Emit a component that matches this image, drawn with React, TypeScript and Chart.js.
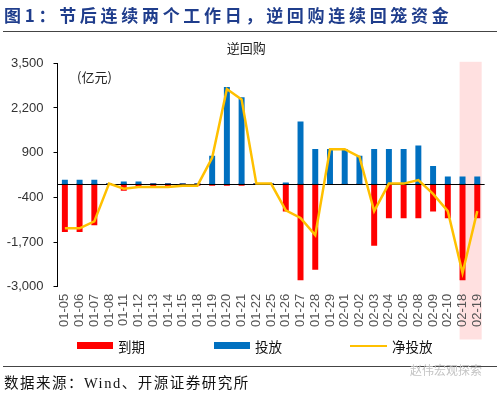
import React, { useEffect, useRef } from "react";
import { Chart, registerables } from "chart.js";

Chart.register(...registerables);

const categories = ["01-05","01-06","01-07","01-08","01-11","01-12","01-13","01-14","01-15","01-18","01-19","01-20","01-21","01-22","01-25","01-26","01-27","01-28","01-29","02-01","02-02","02-03","02-04","02-05","02-08","02-09","02-10","02-18","02-19"];
const maturity = [-1400,-1400,-1200,0,-200,-100,-100,-100,-50,-50,-50,-50,-50,0,0,-800,-2800,-2500,0,0,-20,-1800,-1000,-1000,-1000,-800,-1000,-2800,-1000];
const injection = [100,100,100,0,50,50,0,0,0,0,800,2800,2500,0,0,20,1800,1000,1000,1000,800,1000,1000,1000,1100,500,200,200,200];
const netInjection = [-1300,-1300,-1100,0,-150,-100,-100,-100,-60,-60,750,2750,2450,0,0,-780,-1000,-1500,1000,1000,780,-800,0,0,100,-300,-800,-2600,-800];
const yTicks = [-3000,-1700,-400,900,2200,3500];
const highlightCats = ["02-18","02-19"];

const seriesNames = { maturity: "到期", injection: "投放", net: "净投放" };
const colors = { red: "#FF0000", blue: "#0070C0", yellow: "#FFC000" };

const cjk = '"Noto Sans CJK SC", "Noto Sans", sans-serif';
const latin = '"Liberation Sans", Arial, sans-serif';

const extrasPlugin = {
  id: "extras",
  beforeDraw(chart: any) {
    const { ctx, scales, chartArea } = chart;
    const xs = scales.x;
    const i1 = categories.indexOf(highlightCats[0]);
    const i2 = categories.indexOf(highlightCats[highlightCats.length - 1]);
    const w = xs.getPixelForValue(1) - xs.getPixelForValue(0);
    const left = xs.getPixelForValue(i1) - 0.2 * w;
    const right = xs.getPixelForValue(i2) + 0.3 * w;
    ctx.save();
    ctx.fillStyle = "rgba(255,0,0,0.12)";
    ctx.fillRect(left, chartArea.top - 1.5, right - left, 341 - chartArea.top);
    ctx.restore();
  },
  beforeDatasetDraw(chart: any, args: any) {
    if (args.index !== 2) return;
    const { ctx, scales, chartArea } = chart;
    const y0 = Math.round(scales.y.getPixelForValue(0)) + 0.5;
    ctx.save();
    ctx.strokeStyle = "#000";
    ctx.lineWidth = 1.2;
    ctx.beginPath();
    ctx.moveTo(chartArea.left, y0);
    ctx.lineTo(chartArea.right, y0);
    ctx.stroke();
    ctx.restore();
  },
};

function ChartCanvas() {
  const ref = useRef<HTMLCanvasElement | null>(null);
  useEffect(() => {
    if (!ref.current) return;
    const chart = new Chart(ref.current, {
      type: "bar",
      data: {
        labels: categories,
        datasets: [
          {
            type: "bar",
            label: seriesNames.maturity,
            data: maturity,
            backgroundColor: colors.red,
            barThickness: 5.3,
            grouped: false,
            order: 2,
          } as any,
          {
            type: "bar",
            label: seriesNames.injection,
            data: injection,
            backgroundColor: colors.blue,
            barThickness: 5.3,
            grouped: false,
            order: 1,
          } as any,
          {
            type: "line",
            label: seriesNames.net,
            data: netInjection,
            borderColor: colors.yellow,
            backgroundColor: colors.yellow,
            borderWidth: 2.5,
            pointRadius: 0,
            tension: 0,
            order: 0,
          } as any,
        ],
      },
      options: {
        responsive: false,
        animation: false,
        layout: { padding: { left: 0, right: 7.5, top: 0, bottom: 0 } },
        plugins: {
          legend: { display: false },
          tooltip: { enabled: false },
          title: {
            display: true,
            text: "逆回购",
            color: "#222",
            font: { family: cjk, size: 13, weight: "normal", lineHeight: 1.2 },
            padding: { top: 40, bottom: 7.7 },
          },
        },
        scales: {
          x: {
            offset: true,
            grid: { display: false, drawTicks: false },
            border: { display: false },
            ticks: {
              autoSkip: false,
              maxRotation: 90,
              minRotation: 90,
              padding: 7,
              color: "#555",
              font: { family: latin, size: 13 },
            },
            afterFit(scale: any) {
              scale.height = 107.3;
            },
          },
          y: {
            min: yTicks[0],
            max: yTicks[yTicks.length - 1],
            afterBuildTicks(scale: any) {
              scale.ticks = yTicks.map((v) => ({ value: v }));
            },
            grid: {
              drawOnChartArea: false,
              drawTicks: true,
              tickLength: 4,
              color: "#000",
            },
            border: { display: true, color: "#000", width: 1 },
            ticks: {
              padding: 10,
              color: "#333",
              font: { family: latin, size: 13 },
              callback: (v: any) => Number(v).toLocaleString("en-US"),
            },
            afterFit(scale: any) {
              scale.width = 57.5;
            },
          },
        },
      },
      plugins: [extrasPlugin],
    });
    return () => chart.destroy();
  }, []);
  return (
    <canvas
      ref={ref}
      width={500}
      height={394}
      style={{ position: "absolute", left: 0, top: 0, width: 500, height: 394 }}
    />
  );
}

export default function App() {
  const legendText: React.CSSProperties = {
    position: "absolute",
    top: 337,
    fontFamily: cjk,
    fontSize: 13.5,
    lineHeight: "18px",
    color: "#111",
  };
  return (
    <div
      style={{
        position: "absolute",
        left: 0,
        top: 0,
        width: 500,
        height: 394,
        background: "#fff",
        overflow: "hidden",
      }}
    >
      <ChartCanvas />
      <div
        style={{
          position: "absolute",
          left: 4,
          top: 4,
          fontFamily: cjk,
          fontWeight: "bold",
          fontSize: 17,
          lineHeight: "21px",
          letterSpacing: 3.7,
          color: "#1F3D8C",
          whiteSpace: "nowrap",
        }}
      >
        图1：节后连续两个工作日，逆回购连续回笼资金
      </div>
      <div style={{ position: "absolute", left: 3, top: 30.5, width: 494, height: 1.2, background: "#444" }} />
      <div
        style={{
          position: "absolute",
          left: 77,
          top: 67.5,
          fontFamily: cjk,
          fontSize: 13,
          lineHeight: "18px",
          color: "#222",
        }}
      >
        (亿元)
      </div>
      <div style={{ position: "absolute", left: 77, top: 342, width: 36, height: 7, background: colors.red }} />
      <div style={{ ...legendText, left: 118 }}>{seriesNames.maturity}</div>
      <div style={{ position: "absolute", left: 214, top: 342, width: 36, height: 7, background: colors.blue }} />
      <div style={{ ...legendText, left: 255 }}>{seriesNames.injection}</div>
      <div style={{ position: "absolute", left: 350, top: 344.5, width: 37, height: 2.5, background: colors.yellow }} />
      <div style={{ ...legendText, left: 392 }}>{seriesNames.net}</div>
      <div style={{ position: "absolute", left: 3, top: 365.5, width: 494, height: 1.2, background: "#444" }} />
      <div
        style={{
          position: "absolute",
          left: 410,
          top: 362,
          fontFamily: cjk,
          fontSize: 12,
          lineHeight: "16px",
          color: "#c4c4c4",
          whiteSpace: "nowrap",
        }}
      >
        赵伟宏观探索
      </div>
      <div
        style={{
          position: "absolute",
          left: 4,
          top: 373,
          fontFamily: '"Liberation Serif", "Noto Sans CJK SC", serif',
          fontSize: 14.5,
          lineHeight: "20px",
          letterSpacing: 1.5,
          color: "#111",
          whiteSpace: "nowrap",
        }}
      >
        数据来源：Wind、开源证券研究所
      </div>
    </div>
  );
}
